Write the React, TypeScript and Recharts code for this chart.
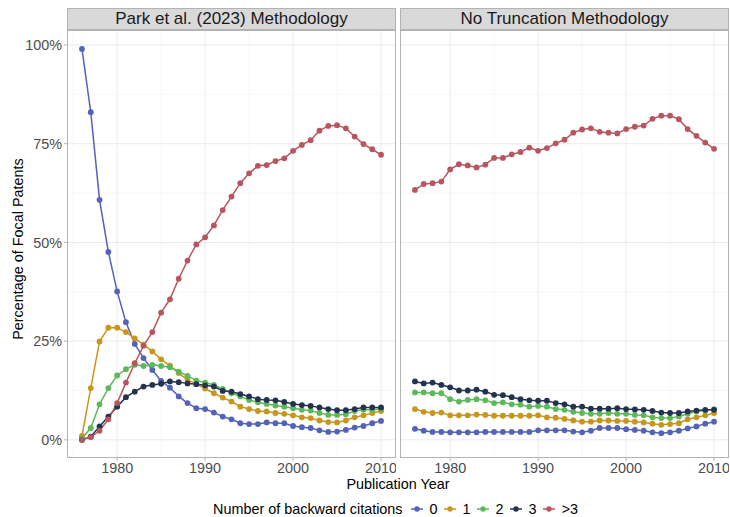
import React from "react";
import { LineChart, Line, XAxis, YAxis, CartesianGrid } from "recharts";

const years = [
  1976, 1977, 1978, 1979, 1980, 1981, 1982, 1983, 1984, 1985, 1986, 1987,
  1988, 1989, 1990, 1991, 1992, 1993, 1994, 1995, 1996, 1997, 1998, 1999,
  2000, 2001, 2002, 2003, 2004, 2005, 2006, 2007, 2008, 2009, 2010,
];

// Park et al. (2023) methodology, % of focal patents
const park0 = [99.0, 83.0, 60.8, 47.6, 37.6, 29.8, 24.3, 20.7, 17.7, 14.9, 13.2, 11.0, 9.3, 8.0, 7.8, 6.9, 5.9, 5.2, 4.2, 4.0, 4.0, 4.4, 4.2, 4.2, 3.5, 3.2, 3.0, 2.4, 2.0, 2.1, 2.5, 3.1, 3.5, 4.2, 4.8];
const park1 = [1.0, 13.1, 24.9, 28.4, 28.4, 27.3, 25.7, 24.1, 22.4, 20.4, 18.8, 16.9, 15.2, 14.1, 13.0, 11.8, 10.7, 9.7, 8.4, 7.8, 7.3, 7.2, 6.8, 6.6, 6.2, 5.7, 5.5, 4.9, 4.5, 4.4, 4.9, 5.7, 6.2, 6.8, 7.3];
const park2 = [0.4, 3.0, 9.0, 13.1, 16.3, 17.9, 19.0, 18.7, 19.0, 18.7, 18.4, 17.3, 16.2, 15.0, 14.5, 13.9, 12.9, 11.8, 11.0, 10.1, 9.5, 9.1, 8.7, 8.4, 8.0, 7.6, 7.4, 6.8, 6.3, 6.3, 6.5, 7.3, 7.6, 7.6, 7.8];
const park3 = [0.0, 0.8, 3.4, 5.9, 8.4, 10.8, 12.2, 13.5, 13.9, 14.2, 14.8, 14.6, 14.3, 14.1, 13.8, 13.5, 12.4, 12.2, 11.6, 11.0, 10.3, 10.1, 10.0, 9.6, 9.1, 8.8, 8.6, 8.2, 7.8, 7.5, 7.5, 7.8, 8.2, 8.2, 8.2];
const park4 = [0.0, 0.7, 2.3, 5.2, 9.3, 14.5, 19.4, 23.8, 27.3, 32.2, 35.6, 40.8, 45.4, 49.5, 51.3, 54.3, 58.2, 61.6, 65.0, 67.5, 69.4, 69.6, 70.6, 71.3, 73.2, 74.7, 75.9, 78.3, 79.5, 79.7, 78.9, 76.8, 74.9, 73.6, 72.2];

// No truncation methodology
const none0 = [2.8, 2.3, 2.0, 2.0, 1.9, 1.9, 1.9, 1.9, 2.0, 2.0, 2.0, 2.0, 2.0, 2.0, 2.4, 2.4, 2.4, 2.4, 2.1, 1.9, 2.3, 3.0, 3.0, 3.0, 2.7, 2.5, 2.3, 1.9, 1.7, 1.9, 2.3, 2.9, 3.4, 4.1, 4.6];
const none1 = [7.8, 7.1, 6.8, 6.9, 6.2, 6.2, 6.2, 6.4, 6.3, 6.1, 6.1, 6.1, 6.1, 6.1, 6.2, 5.7, 5.6, 5.3, 4.9, 4.6, 4.6, 4.9, 4.9, 4.8, 4.8, 4.6, 4.4, 4.1, 3.8, 4.0, 4.2, 5.2, 5.7, 6.2, 6.8];
const none2 = [12.0, 12.0, 11.8, 11.8, 10.3, 9.7, 10.1, 10.3, 10.0, 9.3, 9.5, 9.0, 8.9, 8.4, 8.6, 8.4, 7.8, 7.6, 7.1, 6.8, 6.6, 6.6, 6.8, 6.6, 6.6, 6.3, 6.2, 5.7, 5.5, 5.5, 5.9, 6.6, 7.2, 7.4, 7.8];
const none3 = [14.8, 14.3, 14.5, 13.9, 13.3, 12.5, 12.5, 12.7, 12.2, 11.4, 11.3, 10.8, 10.3, 10.0, 9.9, 9.9, 9.3, 9.0, 8.4, 8.4, 7.9, 7.9, 7.9, 8.0, 7.8, 7.7, 7.6, 7.3, 6.9, 6.8, 6.8, 7.2, 7.4, 7.6, 7.6];
const none4 = [63.3, 64.8, 65.0, 65.4, 68.5, 69.8, 69.5, 69.0, 69.7, 71.4, 71.4, 72.3, 72.9, 74.0, 73.2, 73.9, 75.1, 76.0, 77.8, 78.6, 78.9, 78.0, 77.8, 77.6, 78.7, 79.3, 79.6, 81.3, 82.1, 82.1, 81.2, 78.7, 77.0, 75.3, 73.7];

const seriesLabels = ["0", "1", "2", "3", ">3"];
const seriesColors = ["#5462B8", "#C8961C", "#5DB85A", "#243250", "#B85660"];

const xTicks = [1980, 1990, 2000, 2010];
const xMinor = [1975, 1985, 1995, 2005];
const yTicks = [0, 25, 50, 75, 100];
const yMinor = [12.5, 37.5, 62.5, 87.5];

const FONT = '"Liberation Sans", Arial, sans-serif';
const PANEL_W = 329;
const PANEL_H = 428;
const Y_AXIS_W = 67;

const toRows = (cols: number[][]) =>
  years.map((year, i) => {
    const row: Record<string, number> = { year };
    cols.forEach((c, k) => (row["s" + k] = c[i]));
    return row;
  });

const parkRows = toRows([park0, park1, park2, park3, park4]);
const noneRows = toRows([none0, none1, none2, none3, none4]);

function Panel({ title, rows, left, showY }: { title: string; rows: any[]; left: number; showY: boolean }) {
  const plotLeft = left + (showY ? Y_AXIS_W : 0);
  return (
    <>
      <div
        style={{
          position: "absolute", left: plotLeft, top: 8, width: PANEL_W, height: 22,
          boxSizing: "border-box", background: "#D9D9D9", border: "1px solid #B3B3B3",
          display: "flex", alignItems: "center", justifyContent: "center",
          fontSize: 17, color: "#1A1A1A",
        }}
      >
        {title}
      </div>
      <div style={{ position: "absolute", left, top: 30 }}>
        <LineChart
          width={(showY ? Y_AXIS_W : 0) + PANEL_W}
          height={PANEL_H + 30}
          data={rows}
          margin={{ top: 0, right: 0, bottom: 0, left: 0 }}
        >
          <CartesianGrid stroke="#F3F3F3" strokeWidth={0.7} horizontalValues={yMinor} verticalValues={xMinor} />
          <CartesianGrid stroke="#EBEBEB" strokeWidth={1} horizontalValues={yTicks} verticalValues={xTicks} />
          <XAxis
            dataKey="year" type="number" domain={[1974.3, 2011.7]} ticks={xTicks} allowDataOverflow
            height={30} axisLine={false} tickSize={3} tickMargin={2}
            tickLine={{ stroke: "#B3B3B3" }} tick={{ fill: "#4D4D4D", fontSize: 14.4, fontFamily: FONT }}
          />
          <YAxis
            type="number" domain={[-4.6, 103.8]} ticks={yTicks} allowDataOverflow hide={!showY}
            width={Y_AXIS_W} axisLine={false} tickSize={3} tickMargin={2}
            tickFormatter={(v: number) => `${v}%`}
            tickLine={{ stroke: "#B3B3B3" }} tick={{ fill: "#4D4D4D", fontSize: 14.4, fontFamily: FONT }}
          />
          {seriesLabels.map((label, k) => (
            <Line
              key={label}
              dataKey={"s" + k}
              stroke={seriesColors[k]}
              strokeWidth={1.5}
              dot={{ r: 2.9, fill: seriesColors[k], stroke: "none" }}
              activeDot={false}
              isAnimationActive={false}
            />
          ))}
        </LineChart>
      </div>
      <div
        style={{
          position: "absolute", left: plotLeft, top: 30, width: PANEL_W, height: PANEL_H,
          boxSizing: "border-box", border: "1px solid #B3B3B3", pointerEvents: "none",
        }}
      />
    </>
  );
}

export default function App() {
  return (
    <div
      style={{
        position: "absolute", left: 0, top: 0, width: 730, height: 517,
        background: "#FFFFFF", fontFamily: FONT, overflow: "hidden",
      }}
    >
      <Panel title="Park et al. (2023) Methodology" rows={parkRows} left={0} showY />
      <Panel title="No Truncation Methodology" rows={noneRows} left={400} showY={false} />

      <div
        style={{
          position: "absolute", left: 18, top: 249, fontSize: 14.4, color: "#000",
          transform: "translate(-50%, -50%) rotate(-90deg)", whiteSpace: "nowrap",
        }}
      >
        Percentage of Focal Patents
      </div>
      <div
        style={{
          position: "absolute", left: 398, top: 484, fontSize: 14.4, color: "#000",
          transform: "translate(-50%, -50%)", whiteSpace: "nowrap",
        }}
      >
        Publication Year
      </div>

      <div
        style={{
          position: "absolute", left: 213, top: 500, height: 18, display: "flex",
          alignItems: "center", fontSize: 14.4, color: "#000", whiteSpace: "nowrap",
        }}
      >
        <span style={{ marginRight: 6 }}>Number of backward citations</span>
        {seriesLabels.map((label, k) => (
          <span key={label} style={{ display: "flex", alignItems: "center", marginRight: 4 }}>
            <svg width={16} height={10} style={{ marginRight: 5 }}>
              <line x1={2} y1={5} x2={14} y2={5} stroke={seriesColors[k]} strokeWidth={1.5} />
              <circle cx={8} cy={5} r={2.7} fill={seriesColors[k]} />
            </svg>
            {label}
          </span>
        ))}
      </div>
    </div>
  );
}
